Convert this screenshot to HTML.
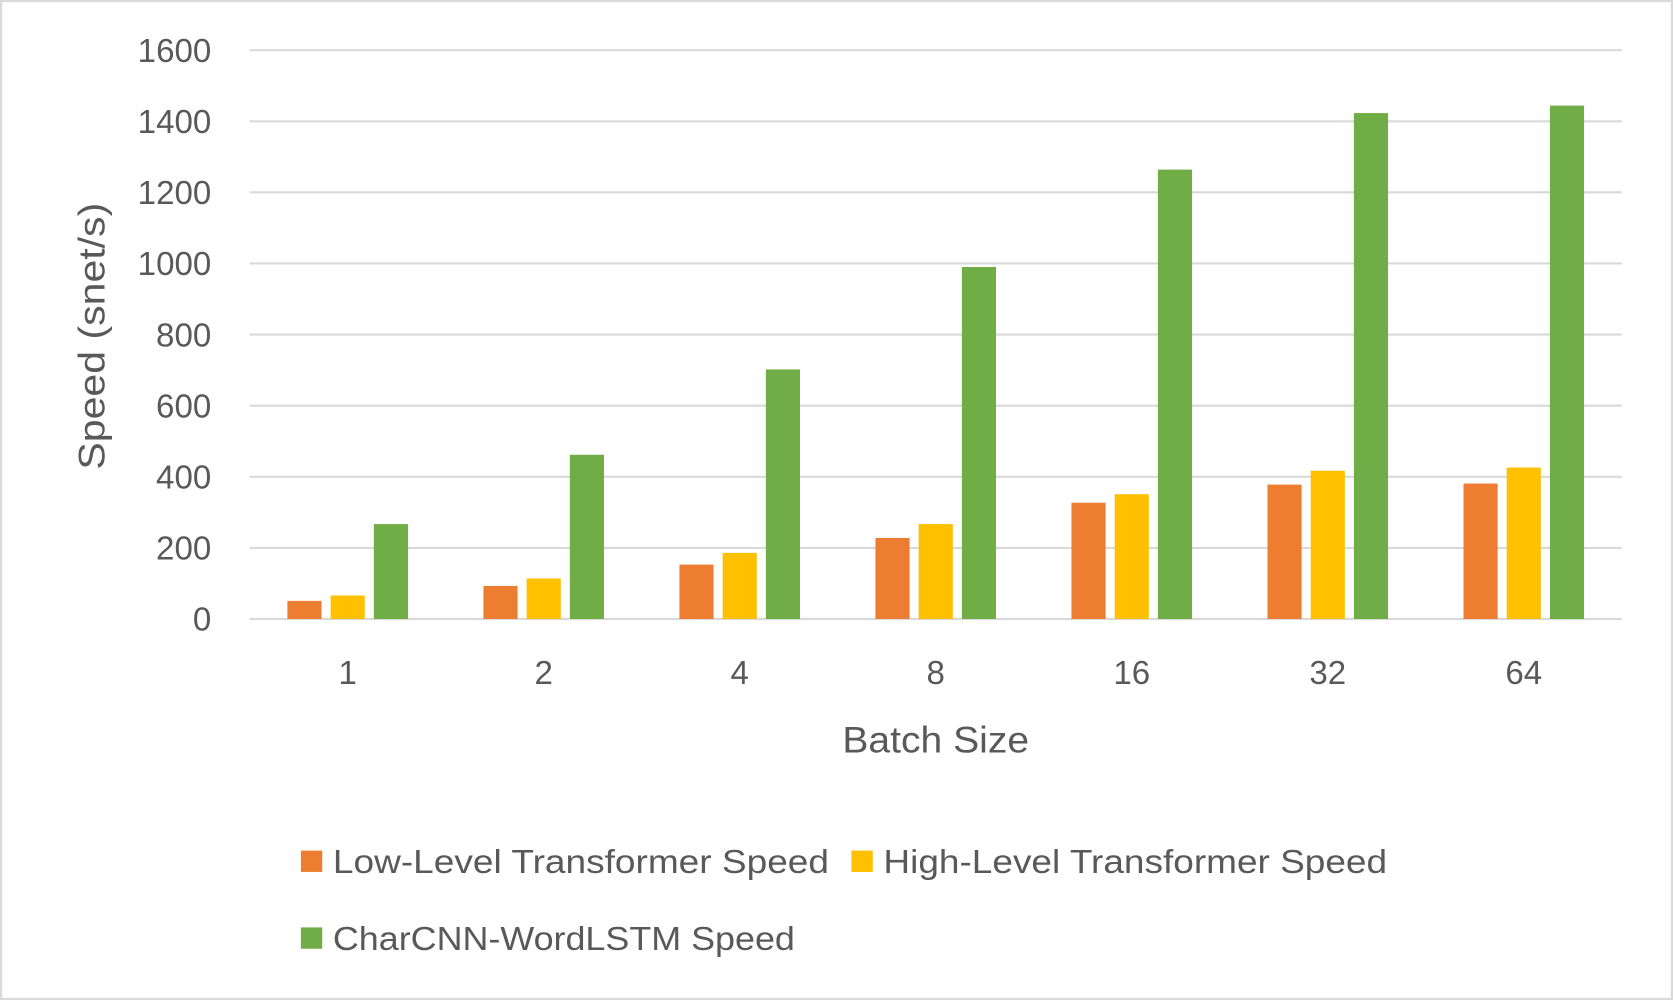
<!DOCTYPE html>
<html><head><meta charset="utf-8"><style>
html,body{margin:0;padding:0;background:#fff;}
svg{display:block;font-family:"Liberation Sans",Arial,sans-serif;}
</style></head><body>
<svg id="chart" width="1673" height="1000" viewBox="0 0 1568 937" preserveAspectRatio="none" xmlns="http://www.w3.org/2000/svg">
<rect x="1" y="1" width="1566" height="935" fill="#fff" stroke="#d9d9d9" stroke-width="2"/>
<g id="grid"></g><g id="bars"></g><g id="labels"></g>
<text transform="translate(98,315) rotate(-90)" text-anchor="middle" font-size="35" fill="#595959" textLength="250" lengthAdjust="spacingAndGlyphs">Speed (snet/s)</text>
<text x="877" y="705" text-anchor="middle" font-size="35" fill="#595959" textLength="175" lengthAdjust="spacingAndGlyphs">Batch Size</text>
<g>
<rect x="282" y="797" width="20" height="20" fill="#ed7d31"/>
<text x="312" y="818" font-size="31" fill="#595959" textLength="465" lengthAdjust="spacingAndGlyphs">Low-Level Transformer Speed</text>
<rect x="798" y="797" width="20" height="20" fill="#ffc000"/>
<text x="828" y="818" font-size="31" fill="#595959" textLength="472" lengthAdjust="spacingAndGlyphs">High-Level Transformer Speed</text>
<rect x="282" y="869" width="20" height="20" fill="#70ad47"/>
<text x="312" y="890" font-size="31" fill="#595959" textLength="433" lengthAdjust="spacingAndGlyphs">CharCNN-WordLSTM Speed</text>
</g>
</svg>
<script>
const categories=["1","2","4","8","16","32","64"];
const lowLevel=[51,93,153,228,327,378,381];
const highLevel=[66,114,186,267,351,417,426];
const charCnn=[267,462,702,990,1264,1423,1444];
const yTicks=[0,200,400,600,800,1000,1200,1400,1600];
const NS="http://www.w3.org/2000/svg";
const x0=234,x1=1520,yBase=580,yTop=47,yMax=1600;
const y=v=>yBase-(v/yMax)*(yBase-yTop);
const band=(x1-x0)/categories.length;
const cx=i=>x0+band*(i+0.5);
function mk(tag,attrs,parent){const e=document.createElementNS(NS,tag);for(const k in attrs)e.setAttribute(k,attrs[k]);parent.appendChild(e);return e;}
const grid=document.getElementById('grid'),bars=document.getElementById('bars'),labels=document.getElementById('labels');
yTicks.forEach(t=>{
  const l=mk('line',{x1:x0,x2:x1,y1:y(t),y2:y(t),stroke:'#d9d9d9','stroke-width':2},grid);
  
  
  const tx=mk('text',{x:198,y:y(t)+11,'text-anchor':'end','font-size':31,fill:'#595959'},labels);
  tx.textContent=t;
  
  
});
const series=[[lowLevel,'#ed7d31','low'],[highLevel,'#ffc000','high'],[charCnn,'#70ad47','charcnn']];
const bw=32,gap=8.5;
categories.forEach((c,i)=>{
  series.forEach((s,j)=>{
    const bx=cx(i)+(j-1)*(bw+gap)-bw/2;
    const r=mk('rect',{x:bx,y:y(s[0][i]),width:bw,height:yBase-y(s[0][i]),fill:s[1]},bars);
    
    
  });
  const tx=mk('text',{x:cx(i),y:641,'text-anchor':'middle','font-size':31,fill:'#595959'},labels);
  tx.textContent=c;
  
  
});
</script>
</body></html>
